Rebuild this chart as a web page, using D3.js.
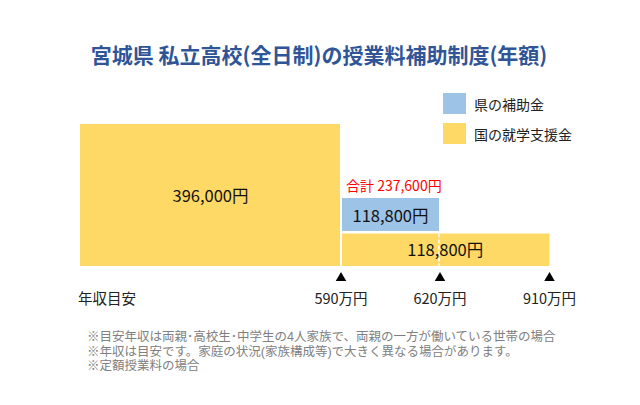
<!DOCTYPE html>
<html><head><meta charset="utf-8">
<script src="https://cdn.jsdelivr.net/npm/d3@7"></script>
<style>
html,body{margin:0;padding:0;background:#fff;}
svg{display:block;}
text{font-family:"Noto Sans CJK JP","Noto Sans",sans-serif;}
text.note{font-family:"Liberation Sans","Noto Sans CJK JP",sans-serif;}
</style></head>
<body>
<script>
// ---- data ----
const title = "宮城県 私立高校(全日制)の授業料補助制度(年額)";
const seriesNames = ["県の補助金", "国の就学支援金"];
const incomeTicks = [590, 620, 910];
const tickLabels = ["590万円", "620万円", "910万円"];
const axisTitle = "年収目安";
// national support segments (income from/to in 万円, yen value)
const nationalFrom = [0, 590];
const nationalTo = [590, 910];
const nationalValues = [396000, 118800];
// prefecture aid segments
const prefFrom = [590];
const prefTo = [620];
const prefValues = [118800];
const notes = [
  "※目安年収は両親･高校生･中学生の4人家族で、両親の一方が働いている世帯の場合",
  "※年収は目安です。家庭の状況(家族構成等)で大きく異なる場合があります。",
  "※定額授業料の場合"
];

const W = 640, H = 405;
const colPref = "#9DC3E6", colNat = "#FFD966";
const svg = d3.select("body").append("svg").attr("width", W).attr("height", H);

const x = d3.scaleLinear().domain([0, 590, 620, 910]).range([80, 341, 440, 549.5]);
const y = d3.scaleLinear().domain([0, 118800, 237600, 396000]).range([266, 232.5, 198, 124]);
const fmt = d3.format(",");

svg.append("text").attr("x", 319).attr("y", 54).attr("text-anchor", "middle")
  .attr("dominant-baseline", "central")
  .attr("font-size", 21).attr("font-weight", "bold").attr("fill", "#2F5597").text(title);

// national bars
const nat = nationalValues.map((v, i) => ({from: nationalFrom[i], to: nationalTo[i], v}));
const natG = svg.append("g");
natG.selectAll("rect").data(nat).join("rect")
  .attr("x", d => d.from === 0 ? x(d.from) : x(d.from) + 1)
  .attr("width", d => (d.from === 0 ? x(d.to) - 1 - x(d.from) : x(d.to) - x(d.from) - 1))
  .attr("y", d => d.from === 0 ? y(d.v) : y(d.v) + 1)
  .attr("height", d => d.from === 0 ? y(0) - y(d.v) : y(0) - y(d.v) - 1)
  .attr("fill", colNat);

// prefecture bars stacked on national
const pref = prefValues.map((v, i) => {
  const base = nationalValues[nationalFrom.indexOf(prefFrom[i])];
  return {from: prefFrom[i], to: prefTo[i], v, base};
});
svg.append("g").selectAll("rect").data(pref).join("rect")
  .attr("x", d => x(d.from) + 1)
  .attr("width", d => x(d.to) - x(d.from) - 2)
  .attr("y", d => y(d.base + d.v))
  .attr("height", d => y(d.base) - 1.5 - y(d.base + d.v))
  .attr("fill", colPref);

// white dashed line at 620 inside lower national bar
svg.append("line").attr("x1", x(620) - 1).attr("x2", x(620) - 1)
  .attr("y1", y(118800) + 1).attr("y2", y(0))
  .attr("stroke", "#fff").attr("stroke-width", 1.5).attr("stroke-dasharray", "4,2");

// value labels
const lblFont = 16.5;
svg.append("g").selectAll("text").data(nat).join("text")
  .attr("x", d => (x(d.from) + x(d.to)) / 2)
  .attr("y", d => (y(d.v) + y(0)) / 2)
  .attr("text-anchor", "middle").attr("dominant-baseline", "central")
  .attr("font-size", lblFont).attr("fill", "#111").text(d => fmt(d.v) + "円");
svg.append("g").selectAll("text").data(pref).join("text")
  .attr("x", d => (x(d.from) + x(d.to)) / 2)
  .attr("y", d => (y(d.base + d.v) + y(d.base)) / 2)
  .attr("text-anchor", "middle").attr("dominant-baseline", "central")
  .attr("font-size", lblFont).attr("fill", "#111").text(d => fmt(d.v) + "円");

// total label
pref.forEach(d => {
  svg.append("text").attr("x", x(d.from) + 5).attr("y", y(d.base + d.v) - 13)
    .attr("dominant-baseline", "central").attr("font-size", 14).attr("fill", "#FF0000")
    .text("合計 " + fmt(d.base + d.v) + "円");
});

// ticks (triangles) and labels
const tri = d3.symbol().type(d3.symbolTriangle).size(48);
svg.append("g").selectAll("path").data(incomeTicks).join("path")
  .attr("d", tri).attr("transform", d => `translate(${x(d)},278)`).attr("fill", "#000");
svg.append("g").selectAll("text").data(incomeTicks).join("text")
  .attr("x", d => x(d)).attr("y", 297).attr("text-anchor", "middle")
  .attr("dominant-baseline", "central").attr("font-size", 14.5).attr("fill", "#222")
  .text((d, i) => tickLabels[i]);
svg.append("text").attr("x", 78).attr("y", 297).attr("dominant-baseline", "central")
  .attr("font-size", 14.5).attr("fill", "#222").text(axisTitle);

// legend
const lg = svg.append("g").attr("transform", "translate(443,93)");
const legCols = [colPref, colNat];
lg.selectAll("rect").data(seriesNames).join("rect")
  .attr("x", 0).attr("y", (d, i) => i * 30).attr("width", 23).attr("height", 21)
  .attr("fill", (d, i) => legCols[i]);
lg.selectAll("text").data(seriesNames).join("text")
  .attr("x", 31).attr("y", (d, i) => i * 30 + 10.5).attr("dominant-baseline", "central")
  .attr("font-size", 14).attr("fill", "#222").text(d => d);

// notes
svg.append("g").selectAll("text").data(notes).join("text")
  .attr("class", "note")
  .attr("x", 87).attr("y", (d, i) => 337 + i * 14.5).attr("dominant-baseline", "central")
  .attr("font-size", 12.5).attr("fill", "#808080").text(d => d);
</script>
</body></html>
